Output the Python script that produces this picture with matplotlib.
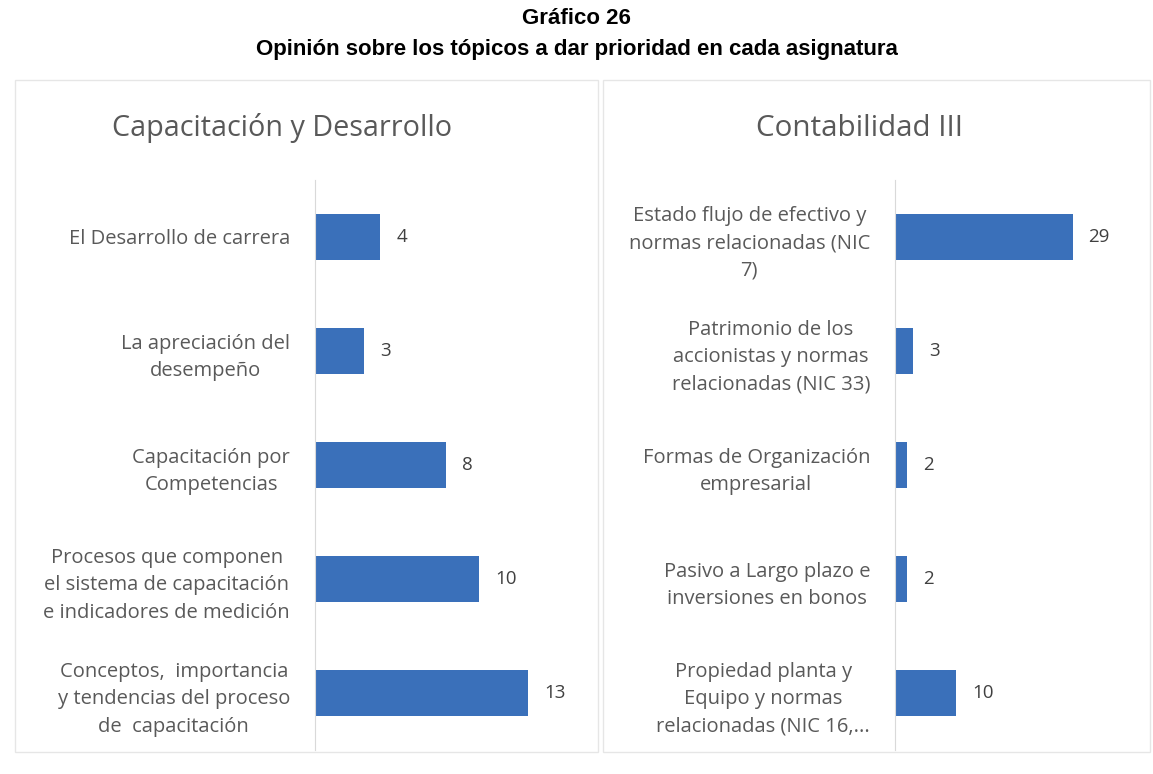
import matplotlib.pyplot as plt
from matplotlib.patches import Rectangle

# data
cap_labels = [
    "El Desarrollo de carrera",
    "La apreciación del\ndesempeño",
    "Capacitación por\nCompetencias",
    "Procesos que componen\nel sistema de capacitación\ne indicadores de medición",
    "Conceptos,  importancia\ny tendencias del proceso\nde  capacitación",
]
cap_values = [4, 3, 8, 10, 13]

cont_labels = [
    "Estado flujo de efectivo y\nnormas relacionadas (NIC\n7)",
    "Patrimonio de los\naccionistas y normas\nrelacionadas (NIC 33)",
    "Formas de Organización\nempresarial",
    "Pasivo a Largo plazo e\ninversiones en bonos",
    "Propiedad planta y\nEquipo y normas\nrelacionadas (NIC 16,...",
]
cont_values = [29, 3, 2, 2, 10]

W, H = 1153, 774
BAR = "#3a70ba"
TXT = "#595959"
LAB_FONT = ["Open Sans", "DejaVu Sans"]

fig = plt.figure(figsize=(W / 100, H / 100), dpi=100)
fig.patch.set_facecolor("white")

fig.text(0.5, 1 - 19 / H, "Gráfico 26", ha="center", va="center",
         fontsize=16, fontweight="bold", family="Liberation Sans")
fig.text(0.5, 1 - 50 / H, "Opinión sobre los tópicos a dar prioridad en cada asignatura",
         ha="center", va="center", fontsize=16, fontweight="bold", family="Liberation Sans")

# panel frames
for x0, x1 in [(15, 598), (603, 1150)]:
    fig.add_artist(Rectangle((x0 / W, 1 - 752 / H), (x1 - x0) / W, (752 - 80) / H,
                             transform=fig.transFigure, fill=False,
                             edgecolor="#e6e6e6", linewidth=1))


def panel(left, right, title, title_x, title_size, labels, values, xmax, off):
    ax = fig.add_axes([left / W, 1 - 750 / H, (right - left) / W, (750 - 180) / H])
    y = list(range(len(labels)))
    ax.barh(y, values, height=0.4, color=BAR)
    ax.set_ylim(len(labels) - 0.5, -0.5)
    ax.set_xlim(0, xmax)
    ax.set_yticks(y)
    ax.set_yticklabels(labels, family=LAB_FONT, fontsize=14.5, color=TXT,
                       multialignment="center", linespacing=1.5)
    ax.tick_params(axis="y", length=0, pad=18)
    ax.set_xticks([])
    for s in ["top", "right", "bottom"]:
        ax.spines[s].set_visible(False)
    ax.spines["left"].set_color("#d9d9d9")
    for yi, v in zip(y, values):
        ax.text(v + off, yi, str(v), va="center", ha="left",
                family=LAB_FONT, fontsize=13.5, color="#404040")
    fig.text(title_x / W, 1 - 128 / H, title, ha="center", va="center",
             family=LAB_FONT, fontsize=title_size, color=TXT)
    return ax


panel(315, 590, "Capacitación y Desarrollo", 282, 20.7, cap_labels, cap_values, 16.8, 1.0)
panel(895, 1140, "Contabilidad III", 859, 21.3, cont_labels, cont_values, 40, 2.6)

fig.savefig("out.png", dpi=100)
